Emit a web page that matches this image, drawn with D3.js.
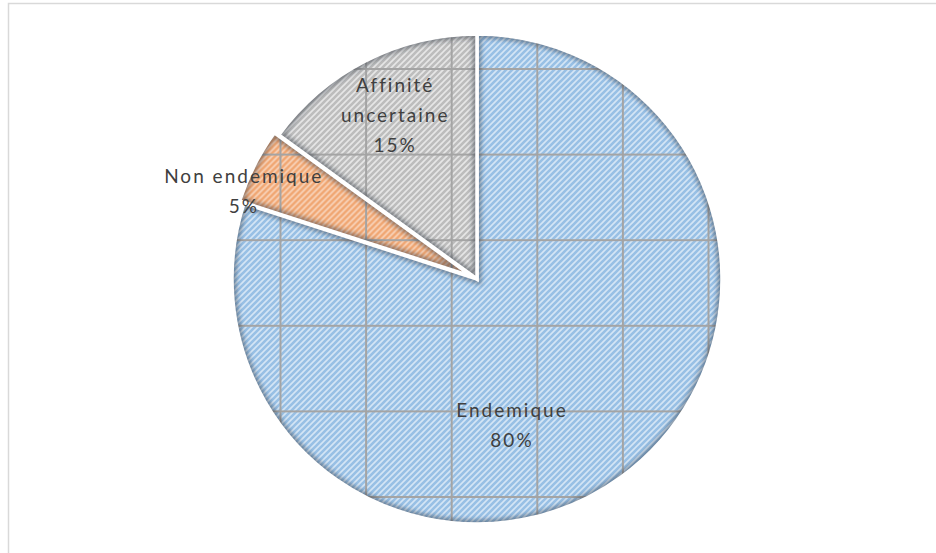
<!DOCTYPE html>
<html>
<head>
<meta charset="utf-8">
<script src="https://cdn.jsdelivr.net/npm/d3@7"></script>
<style>
  body { margin: 0; background: #fff; }
  svg { display: block; }
</style>
</head>
<body>
<div id="chart"></div>
<script>
// data
var categories = ["Endemique", "Non endemique", "Affinité uncertaine"];
var values = [80, 5, 15];
var labelLines = [["Endemique"], ["Non endemique"], ["Affinité", "uncertaine"]];

// look
var lightColors = ["#d4e5f5", "#f9d5bd", "#e6e6e6"];
var darkColors = ["#98c0e5", "#f0a671", "#bdbdbd"];
var explode = [0, 5, 0];
var labelShift = [22.6, -6.5, 0.3];   // degrees, from slice middle
var labelRadius = [151, 249, 182];

var width = 936, height = 553;
var cx = 477, cy = 279, radius = 245;
var gridStep = 85.6, gridX0 = 280.5, gridY0 = 69;

var svg = d3.select("#chart").append("svg")
  .attr("width", width)
  .attr("height", height);

// outer frame
svg.append("rect")
  .attr("x", 8.5).attr("y", 3.5)
  .attr("width", 960).attr("height", 600)
  .attr("fill", "none")
  .attr("stroke", "#d9d9d9")
  .attr("stroke-width", 1.5);

var defs = svg.append("defs");

var total = d3.sum(values);
var pie = d3.pie().sort(null).value(function (d) { return d; });
var arcs = pie(values);
var arc = d3.arc().innerRadius(0).outerRadius(radius);

function offset(d, i) {
  var a = (d.startAngle + d.endAngle) / 2;
  return [Math.sin(a) * explode[i], -Math.cos(a) * explode[i]];
}

// striped fills + grid texture, one per slice so the grid stays on the page grid
arcs.forEach(function (d, i) {
  var o = offset(d, i);
  var p = defs.append("pattern")
    .attr("id", "stripe" + i)
    .attr("patternUnits", "userSpaceOnUse")
    .attr("width", 6).attr("height", 6);
  p.append("rect").attr("width", 6).attr("height", 6).attr("fill", lightColors[i]);
  p.append("path")
    .attr("d", "M0,6L6,0M-1.5,1.5L1.5,-1.5M4.5,7.5L7.5,4.5")
    .attr("stroke", darkColors[i])
    .attr("stroke-width", 2.6);

  var g = defs.append("pattern")
    .attr("id", "grid" + i)
    .attr("patternUnits", "userSpaceOnUse")
    .attr("x", gridX0 - 1 - cx - o[0]).attr("y", gridY0 - 1 - cy - o[1])
    .attr("width", gridStep).attr("height", gridStep);
  g.append("rect").attr("width", 2).attr("height", gridStep).attr("fill", "#a4a4a4");
  g.append("rect").attr("width", gridStep).attr("height", 2).attr("fill", "#a4a4a4");

  defs.append("clipPath").attr("id", "clip" + i)
    .append("path").attr("d", arc(d));
});

// soft blur for the inner edge shading
defs.append("filter").attr("id", "soft")
  .attr("filterUnits", "userSpaceOnUse")
  .attr("x", -300).attr("y", -300).attr("width", 600).attr("height", 600)
  .append("feGaussianBlur").attr("stdDeviation", 2.2);

var slices = svg.selectAll(".slice")
  .data(arcs)
  .enter().append("g")
  .attr("class", "slice")
  .attr("transform", function (d, i) {
    var o = offset(d, i);
    return "translate(" + (cx + o[0]) + "," + (cy + o[1]) + ")";
  });

slices.append("path")
  .attr("d", arc)
  .attr("fill", function (d, i) { return "url(#stripe" + i + ")"; });
slices.append("path")
  .attr("d", arc)
  .attr("fill", function (d, i) { return "url(#grid" + i + ")"; });

// darker band along the inside of each slice edge
slices.append("g")
  .attr("clip-path", function (d, i) { return "url(#clip" + i + ")"; })
  .append("path")
  .attr("d", arc)
  .attr("fill", "none")
  .attr("stroke", "#2b3540")
  .attr("stroke-opacity", 0.45)
  .attr("stroke-width", 9)
  .attr("filter", "url(#soft)");

// white borders
slices.append("path")
  .attr("d", arc)
  .attr("fill", "none")
  .attr("stroke", "#fff")
  .attr("stroke-width", 3.5)
  .attr("stroke-linejoin", "miter");

// labels
var lineH = 30;
arcs.forEach(function (d, i) {
  var a = (d.startAngle + d.endAngle) / 2 + labelShift[i] * Math.PI / 180;
  var px = cx + Math.sin(a) * labelRadius[i];
  var py = cy - Math.cos(a) * labelRadius[i];
  var lines = labelLines[i].concat([Math.round(values[i] / total * 100) + "%"]);
  var y0 = py - (lines.length - 1) * lineH / 2 + 6;
  var t = svg.append("text")
    .attr("text-anchor", "middle")
    .style("font-family", "Lato, 'Open Sans', sans-serif")
    .style("font-size", "19px")
    .style("letter-spacing", "2px")
    .attr("fill", "#404040");
  lines.forEach(function (s, k) {
    t.append("tspan")
      .attr("x", px)
      .attr("y", y0 + k * lineH)
      .text(s);
  });
});
</script>
</body>
</html>
